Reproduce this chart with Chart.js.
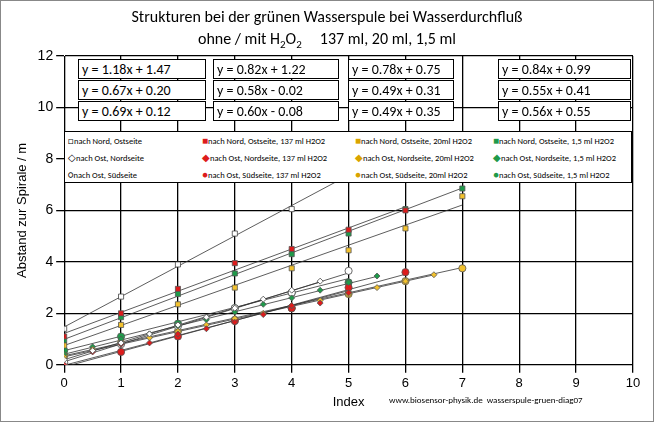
<!DOCTYPE html>
<html><head><meta charset="utf-8">
<script src="https://cdn.jsdelivr.net/npm/chart.js@4"></script>
<style>
body{margin:0;background:#fff;font-family:Calibri,"Liberation Sans",Arial,sans-serif;}
#wrap{position:relative;width:652px;height:420px;border:1px solid #888;}
.t{position:absolute;left:0;width:652px;text-align:center;font-size:16px;}
.eq{position:absolute;border:1.5px solid #000;background:#fff;font-size:14px;padding-left:3px;height:20px;line-height:20px;box-sizing:border-box;}
#leg{position:absolute;left:63px;top:130px;width:566px;height:50px;border:1px solid #000;background:#fff;font-size:8.5px;}
.li{position:absolute;white-space:nowrap;}
.foot{position:absolute;top:393px;left:388px;font-size:9px;}
</style></head><body>
<div id="wrap">
<canvas id="c" width="652" height="420"></canvas>
<div class="t" style="top:6px">Strukturen bei der grünen Wasserspule bei Wasserdurchfluß</div>
<div class="t" style="top:28px">ohne / mit H<sub style="font-size:11px">2</sub>O<sub style="font-size:11px">2</sub>&nbsp;&nbsp;&nbsp;&nbsp; 137 ml, 20 ml, 1,5 ml</div>
<div id="eqs"></div>
<div id="leg"></div>
<div class="foot">www.biosensor-physik.de&nbsp; wasserspule-gruen-diag07</div>
</div>
<script>
'use strict';
var labels = [
  "nach  Nord, Ostseite", "nach Nord, Ostseite, 137 ml  H2O2", "nach Nord, Ostseite, 20ml H2O2", "nach Nord, Ostseite, 1,5 ml H2O2",
  "nach Ost, Nordseite", "nach Ost, Nordseite, 137 ml H2O2", "nach Ost, Nordseite, 20ml H2O2", "nach Ost, Nordseite, 1,5 ml H2O2",
  "nach Ost, Südseite", "nach Ost, Südseite, 137 ml H2O2", "nach Ost, Südseite, 20ml H2O2", "nach Ost, Südseite, 1,5 ml H2O2"
];
var equations = [
  "y = 1.18x + 1.47", "y = 0.82x + 1.22", "y = 0.78x + 0.75", "y = 0.84x + 0.99",
  "y = 0.67x + 0.20", "y = 0.58x - 0.02", "y = 0.49x + 0.31", "y = 0.55x + 0.41",
  "y = 0.69x + 0.12", "y = 0.60x - 0.08", "y = 0.49x + 0.35", "y = 0.56x + 0.55"
];
var slopes = [1.18, 0.82, 0.78, 0.84, 0.67, 0.58, 0.49, 0.55, 0.69, 0.60, 0.49, 0.56];
var offsets = [1.47, 1.22, 0.75, 0.99, 0.20, -0.02, 0.31, 0.41, 0.12, -0.08, 0.35, 0.55];
var trendEnd = [5.6, 6, 7, 7, 4.5, 5, 6.5, 5.5, 5, 6, 7, 5];
var xs = [
  [0,1,2,3,4], [0,1,2,3,4,5,6], [0,1,2,3,4,5,6,7], [0,1,2,3,4,5,6,7],
  [0,0.5,1,1.5,2,2.5,3,3.5,4,4.5], [0,0.5,1,1.5,2,2.5,3,3.5,4,4.5,5], [0,0.5,1,1.5,2,2.5,3,3.5,4,4.5,5,5.5,6,6.5], [0,0.5,1,1.5,2,2.5,3,3.5,4,4.5,5,5.5],
  [0,1,2,3,4,5], [0,1,2,3,4,5,6], [0,1,2,3,4,5,6,7], [0,1,2,3,4,5]
];
var ys = [
  [1.4,2.65,3.9,5.1,6.05], [1.1,2.0,2.95,3.95,4.5,5.25,6.0], [0.75,1.55,2.35,3.0,3.75,4.45,5.3,6.55], [0.95,1.85,2.75,3.55,4.3,5.1,6.05,6.85],
  [0.2,0.55,0.85,1.2,1.55,1.85,2.2,2.55,2.9,3.25], [0.0,0.5,0.8,0.85,1.2,1.4,1.65,1.95,2.3,2.4,2.8], [0.3,0.6,0.8,1.05,1.3,1.55,1.8,2.0,2.3,2.5,2.75,3.0,3.25,3.5], [0.4,0.7,1.0,1.2,1.5,1.75,2.05,2.35,2.6,2.9,3.2,3.45],
  [0.1,0.8,1.5,2.2,2.8,3.65], [0.0,0.5,1.1,1.7,2.2,3.0,3.6], [0.35,0.85,1.3,1.75,2.2,2.75,3.25,3.75], [0.55,1.1,1.6,2.2,2.8,3.2]
];
var fills = ["#fff", "#dd1c1c", "#f2c12e", "#1f9a4a"];
var shapes = ["rect", "rectRot", "circle"];

var datasets = [];
for (var i = 0; i < 12; i++) {
  var col = i % 4, row = Math.floor(i / 4);
  datasets.push({
    type: 'line', label: 'trend' + i, order: 2,
    data: [{x: 0, y: offsets[i]}, {x: trendEnd[i], y: slopes[i] * trendEnd[i] + offsets[i]}],
    borderColor: '#333', borderWidth: 0.8, pointRadius: 0, showLine: true, fill: false
  });
  datasets.push({
    type: 'scatter', label: labels[i], order: 1,
    data: xs[i].map(function(x, k) { return {x: x, y: ys[i][k]}; }),
    pointStyle: shapes[row], backgroundColor: fills[col], borderColor: col == 0 ? '#444' : '#555',
    borderWidth: 0.8, pointRadius: row == 1 ? 3 : 3.6
  });
}

new Chart(document.getElementById('c'), {
  data: {datasets: datasets},
  options: {
    responsive: false, animation: false,
    layout: {padding: {top: 55, right: 20, left: 10, bottom: 11}},
    plugins: {legend: {display: false}, tooltip: {enabled: false}},
    scales: {
      x: {type: 'linear', min: 0, max: 10,
        ticks: {stepSize: 1, color: '#000', font: {size: 13}},
        grid: {color: '#000', lineWidth: 1.3},
        border: {color: '#000'},
        title: {display: true, text: 'Index', color: '#000', font: {size: 13}, padding: 0}},
      y: {min: 0, max: 12,
        ticks: {stepSize: 2, color: '#000', font: {size: 14}},
        grid: {color: '#000', lineWidth: 1.3},
        border: {color: '#000'},
        title: {display: true, text: 'Abstand zur Spirale / m', color: '#000', font: {size: 13}}}
    }
  }
});

var eqLeft = [77, 212, 347, 497], eqW = [128, 126, 106, 133];
var html = '';
for (var i = 0; i < 12; i++) {
  html += '<div class="eq" style="left:' + eqLeft[i % 4] + 'px;top:' + (58 + 21 * Math.floor(i / 4)) + 'px;width:' + eqW[i % 4] + 'px">' + equations[i] + '</div>';
}
document.getElementById('eqs').innerHTML = html;

var legLeft = [3, 137, 290, 428], marks = ['&#9633;', '&#9671;', '&#9675;'];
var markCol = ['#000', '#dd1c1c', '#d9a400', '#1f9a4a'];
var lh = '';
for (var i = 0; i < 12; i++) {
  var c = i % 4, r = Math.floor(i / 4);
  var m = c == 0 ? marks[r] : (r == 0 ? '&#9632;' : r == 1 ? '&#9670;' : '&#9679;');
  lh += '<div class="li" style="left:' + legLeft[c] + 'px;top:' + (2 + 17 * r) + 'px"><span style="color:' + markCol[c] + ';font-size:10px">' + m + '</span>' + labels[i] + '</div>';
}
document.getElementById('leg').innerHTML = lh;
</script>
</body></html>
